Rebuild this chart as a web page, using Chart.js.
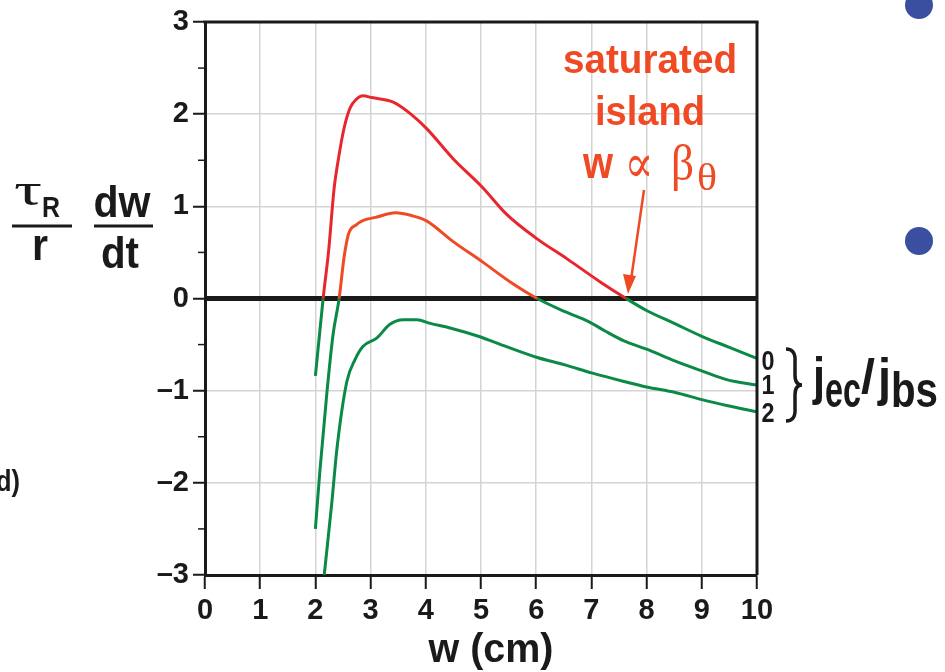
<!DOCTYPE html>
<html lang="en">
<head>
<meta charset="UTF-8">
<title>Island growth rate vs width</title>
<script src="https://cdn.jsdelivr.net/npm/chart.js"></script>
<style>
  html, body { margin: 0; padding: 0; background: #fff; }
  #wrap { position: relative; width: 945px; height: 672px; overflow: hidden; }
</style>
</head>
<body>
<div id="wrap"><canvas id="growthChart"></canvas></div>
<script>
// island width w (cm) and (tau_R/r) dw/dt for j_ec/j_bs = 0, 1, 2
const w0 = [2.0, 2.14, 2.24, 2.34, 2.41, 2.52, 2.63, 2.74, 2.86, 3.02, 3.41, 3.73, 4.02, 4.49, 5.02, 5.47, 6.01, 6.56, 7.16, 7.63, 8.0, 8.5, 9.0, 9.5, 10.0];
const g0 = [-0.84, 0, 0.52, 1.20, 1.49, 1.85, 2.07, 2.16, 2.20, 2.18, 2.13, 2.00, 1.84, 1.52, 1.21, 0.91, 0.65, 0.43, 0.18, 0, -0.13, -0.27, -0.41, -0.53, -0.65];

const w1 = [2.0, 2.08, 2.21, 2.32, 2.43, 2.52, 2.6, 2.74, 2.88, 3.09, 3.45, 3.74, 4.02, 4.49, 5.02, 5.53, 6.02, 6.51, 6.95, 7.24, 7.59, 8.0, 8.52, 9.02, 9.45, 10.0];
const g1 = [-2.50, -1.88, -1.01, -0.39, 0, 0.45, 0.70, 0.80, 0.85, 0.88, 0.93, 0.90, 0.84, 0.62, 0.40, 0.18, 0, -0.14, -0.25, -0.35, -0.46, -0.55, -0.68, -0.79, -0.88, -0.94];

const w2 = [2.16, 2.30, 2.39, 2.57, 2.72, 2.86, 3.11, 3.35, 3.59, 3.84, 4.08, 4.44, 4.95, 5.45, 6.02, 6.52, 7.02, 7.59, 8.0, 8.52, 9.02, 9.45, 10.0];
const g2 = [-3.0, -2.2, -1.63, -0.90, -0.66, -0.52, -0.43, -0.28, -0.23, -0.23, -0.27, -0.32, -0.41, -0.52, -0.64, -0.72, -0.81, -0.90, -0.96, -1.02, -1.10, -1.16, -1.23];

const ratioLabels = ['0', '1', '2'];

const SANS = '"Liberation Sans", Arial, sans-serif';
const SERIF = '"Liberation Serif", "DejaVu Serif", serif';
const INK = '#1a1a1a';
const GREEN = '#0b8a47';
const RED = '#e8262d';
const ORANGE = '#f04a24';

function pts(xs, ys) {
  return xs.map((x, i) => ({ x: x, y: ys[i] }));
}

// red while growing, green once the island decays
function curve(xs, ys, upColor) {
  return {
    data: pts(xs, ys),
    borderWidth: 3,
    pointRadius: 0,
    cubicInterpolationMode: 'monotone',
    borderColor: GREEN,
    segment: {
      borderColor: c => (c.p0.parsed.y >= 0 && c.p1.parsed.y >= 0) ? upColor : GREEN
    }
  };
}

// condensed-looking bold text: squeeze to a target width
function fitText(ctx, s, x, y, size, width, opts = {}) {
  ctx.save();
  ctx.font = (opts.weight || 'bold') + ' ' + size + 'px ' + (opts.family || SANS);
  const m = ctx.measureText(s).width;
  const sx = width ? width / m : (opts.sx || 0.85);
  ctx.translate(x, y);
  ctx.scale(sx, 1);
  ctx.fillStyle = opts.color || INK;
  ctx.textAlign = opts.align || 'left';
  ctx.textBaseline = 'alphabetic';
  ctx.fillText(s, 0, 0);
  ctx.restore();
  return m * sx;
}

function line(ctx, x1, y1, x2, y2, w, color) {
  ctx.save();
  ctx.strokeStyle = color || INK;
  ctx.lineWidth = w;
  ctx.beginPath();
  ctx.moveTo(x1, y1);
  ctx.lineTo(x2, y2);
  ctx.stroke();
  ctx.restore();
}

const decor = {
  id: 'decor',
  beforeDatasetsDraw(chart) {
    const { ctx, chartArea: a, scales: { y } } = chart;
    const y0 = y.getPixelForValue(0);
    line(ctx, a.left, y0, a.right, y0, 5, INK);
  },
  afterDraw(chart) {
    const { ctx, chartArea: a, scales: { y } } = chart;

    // top and right frame
    line(ctx, a.left - 1.5, a.top, a.right + 1.5, a.top, 3, INK);
    line(ctx, a.right, a.top, a.right, a.bottom, 3, INK);

    // minor ticks on y
    for (let v = -2.5; v < 3; v += 1) {
      const py = y.getPixelForValue(v);
      line(ctx, a.left - 7, py, a.left, py, 1.5, INK);
    }

    // y-axis label: (tau_R / r) (dw / dt)
    fitText(ctx, '\u03C4', 14, 205, 46, 28, { weight: 'normal', family: SERIF });
    fitText(ctx, 'R', 42, 217, 30, 18);
    line(ctx, 12, 226, 72, 226, 3);
    fitText(ctx, 'r', 40, 260, 44, 16, { align: 'center' });
    fitText(ctx, 'dw', 122, 217, 44, 57, { align: 'center' });
    line(ctx, 94, 226, 153, 226, 3);
    fitText(ctx, 'dt', 120, 268, 44, 38, { align: 'center' });

    // x-axis label
    fitText(ctx, 'w (cm)', 491, 662, 40, 125, { align: 'center' });

    // curve labels on the right
    const lab = [370, 394, 422];
    ratioLabels.forEach((s, i) => fitText(ctx, s, 768, lab[i], 27, 13, { align: 'center' }));
    ctx.save();
    ctx.strokeStyle = INK;
    ctx.lineWidth = 3.5;
    ctx.beginPath();
    ctx.moveTo(786, 349);
    ctx.quadraticCurveTo(796, 349, 795, 362);
    ctx.lineTo(795, 375);
    ctx.quadraticCurveTo(795, 385, 802, 385);
    ctx.quadraticCurveTo(795, 385, 795, 395);
    ctx.lineTo(795, 408);
    ctx.quadraticCurveTo(796, 421, 786, 421);
    ctx.stroke();
    ctx.restore();

    fitText(ctx, 'j', 813, 394, 52, 12);
    fitText(ctx, 'ec', 825, 407, 50, 36);
    fitText(ctx, '/', 861, 393, 48, 14);
    fitText(ctx, 'j', 878, 395, 52, 13);
    fitText(ctx, 'bs', 891, 407, 50, 47);

    // saturated island annotation
    fitText(ctx, 'saturated', 650, 73, 40, 174, { align: 'center', color: ORANGE });
    fitText(ctx, 'island', 650, 125, 40, 110, { align: 'center', color: ORANGE });
    fitText(ctx, 'w', 598, 178, 44, 30, { align: 'center', color: ORANGE });
    fitText(ctx, '\u221D', 639, 182, 54, 29, { align: 'center', color: ORANGE, weight: 'normal', family: SERIF });
    fitText(ctx, '\u03B2', 671, 180, 50, 23, { color: ORANGE, weight: 'normal', family: SERIF });
    fitText(ctx, '\u03B8', 697, 190, 38, 20, { color: ORANGE, weight: 'normal', family: SERIF });

    // arrow to the marginal point
    line(ctx, 644, 190, 631, 280, 2.5, ORANGE);
    ctx.save();
    ctx.fillStyle = ORANGE;
    ctx.beginPath();
    ctx.moveTo(628, 294);
    ctx.lineTo(623, 274);
    ctx.lineTo(636, 276);
    ctx.closePath();
    ctx.fill();
    ctx.restore();

    // slide remnants: bullets and panel tag
    ctx.save();
    ctx.fillStyle = '#3a4f9f';
    ctx.beginPath(); ctx.arc(919, 5, 14, 0, Math.PI * 2); ctx.fill();
    ctx.beginPath(); ctx.arc(919, 241, 14, 0, Math.PI * 2); ctx.fill();
    ctx.restore();
    fitText(ctx, 'd)', -4, 491, 30, 24);
  }
};

new Chart(document.getElementById('growthChart'), {
  type: 'line',
  data: {
    datasets: [
      curve(w2, g2, ORANGE),
      curve(w1, g1, ORANGE),
      curve(w0, g0, RED)
    ]
  },
  options: {
    responsive: true,
    maintainAspectRatio: false,
    animation: false,
    layout: { padding: { top: 22, right: 188, bottom: 0, left: 0 } },
    plugins: {
      legend: { display: false },
      tooltip: { enabled: false }
    },
    scales: {
      x: {
        type: 'linear',
        min: 0,
        max: 10,
        afterFit: s => { s.height = 97; },
        ticks: {
          stepSize: 1,
          padding: 5,
          color: INK,
          font: { family: SANS, size: 29, weight: 'bold' }
        },
        grid: { color: '#d4d4d4', lineWidth: 1.5, tickLength: 14, tickColor: INK, tickWidth: 2 },
        border: { color: INK, width: 3 }
      },
      y: {
        min: -3,
        max: 3,
        afterFit: s => { s.width = 205; },
        ticks: {
          stepSize: 1,
          padding: 4,
          color: INK,
          font: { family: SANS, size: 29, weight: 'bold' },
          callback: v => v < 0 ? '\u2013' + Math.abs(v) : String(v)
        },
        grid: { color: '#d4d4d4', lineWidth: 1.5, tickLength: 12, tickColor: INK, tickWidth: 2 },
        border: { color: INK, width: 3 }
      }
    }
  },
  plugins: [decor]
});
</script>
</body>
</html>
